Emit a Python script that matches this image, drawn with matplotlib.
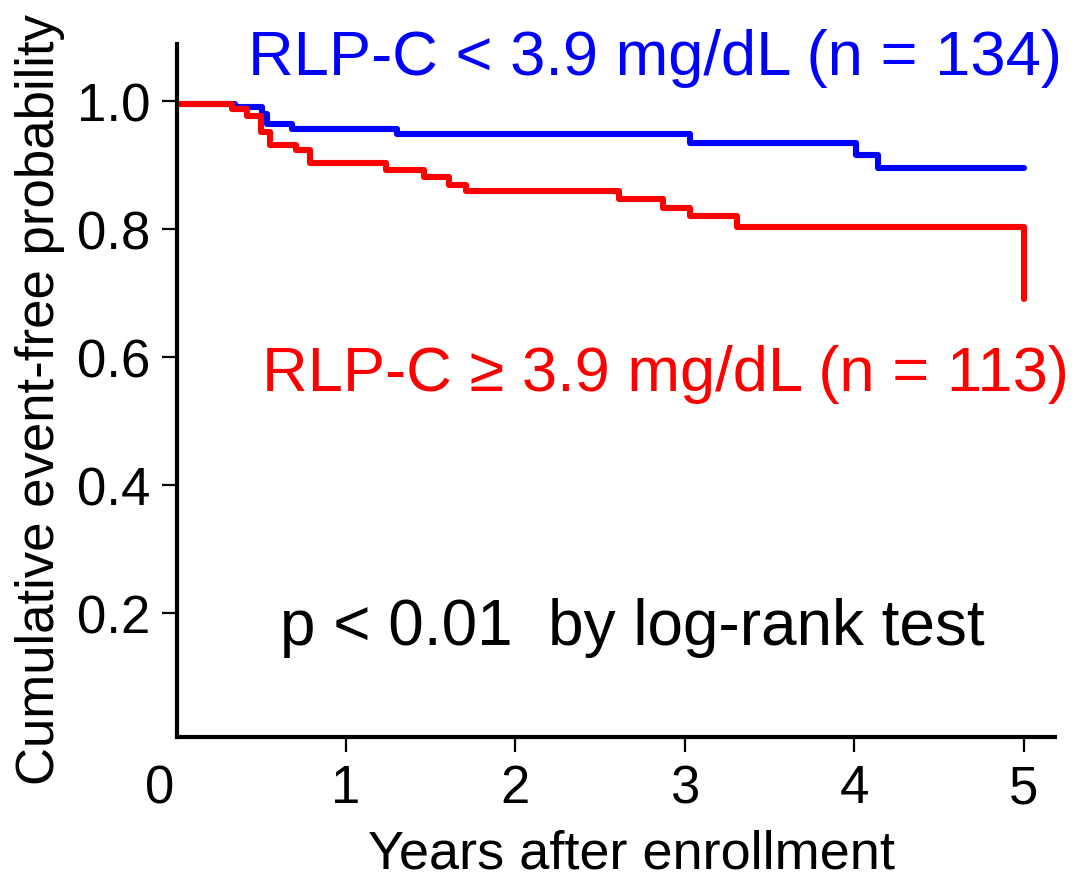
import matplotlib
matplotlib.use("Agg")
import matplotlib.pyplot as plt

plt.rcParams['font.family'] = ['Liberation Sans', 'DejaVu Sans']

# Kaplan-Meier step data
blue_t = [0.0, 0.347, 0.504, 0.534, 0.681, 1.30, 3.03, 4.01, 4.14, 5.0]
blue_s = [0.996, 0.991, 0.980, 0.964, 0.956, 0.948, 0.934, 0.915, 0.895, 0.895]

red_t = [0.0, 0.327, 0.42, 0.50, 0.555, 0.71, 0.79, 1.24, 1.46, 1.61, 1.71,
         2.61, 2.87, 3.03, 3.31, 5.0, 5.0]
red_s = [0.995, 0.987, 0.977, 0.952, 0.931, 0.923, 0.903, 0.892, 0.881, 0.869,
         0.859, 0.847, 0.833, 0.820, 0.804, 0.804, 0.691]

x_ticks = [1, 2, 3, 4, 5]
y_ticks = [0.2, 0.4, 0.6, 0.8, 1.0]
y_ticklabels = ['0.2', '0.4', '0.6', '0.8', '1.0']

blue_label = 'RLP-C < 3.9 mg/dL (n = 134)'
red_label = 'RLP-C \u2265 3.9 mg/dL (n = 113)'
p_label = 'p < 0.01  by log-rank test'

fig = plt.figure(figsize=(10.75, 8.79), dpi=100)
ax = fig.add_axes([177/1075, 1 - 738/879, (1055 - 177)/1075, (738 - 45)/879])

ax.step(blue_t, blue_s, where='post', color='#0000ff', lw=4.4, solid_capstyle='round',
        solid_joinstyle='round')
ax.step(red_t, red_s, where='post', color='#ff0000', lw=4.4, solid_capstyle='round',
        solid_joinstyle='round')

ax.set_xlim(0.005, 5.185)
ax.set_ylim(0.007, 1.089)
ax.set_xticks(x_ticks)
ax.set_xticklabels([str(v) for v in x_ticks])
ax.set_yticks(y_ticks)
ax.set_yticklabels(y_ticklabels)

for s in ['top', 'right']:
    ax.spines[s].set_visible(False)
for s in ['left', 'bottom']:
    ax.spines[s].set_linewidth(3)
ax.tick_params(axis='both', length=11, width=1.6, labelsize=38, pad=8)

fig.text(160/1075, 1 - 790/879, '0', fontsize=38, ha='center', va='center')

fig.text(655/1075, 1 - 58/879, blue_label, color='#0000ff', fontsize=45.5,
         ha='center', va='center')
fig.text(665/1075, 1 - 375/879, red_label, color='#ff0000', fontsize=45.5,
         ha='center', va='center')
fig.text(632/1075, 1 - 628/879, p_label, color='black', fontsize=46,
         ha='center', va='center')
fig.text(632/1075, 1 - 855/879, 'Years after enrollment', fontsize=39,
         ha='center', va='center')
fig.text(40/1075, 1 - 400/879, 'Cumulative event-free probability', fontsize=38,
         ha='center', va='center', rotation=90)

fig.savefig('out.png', dpi=100)
